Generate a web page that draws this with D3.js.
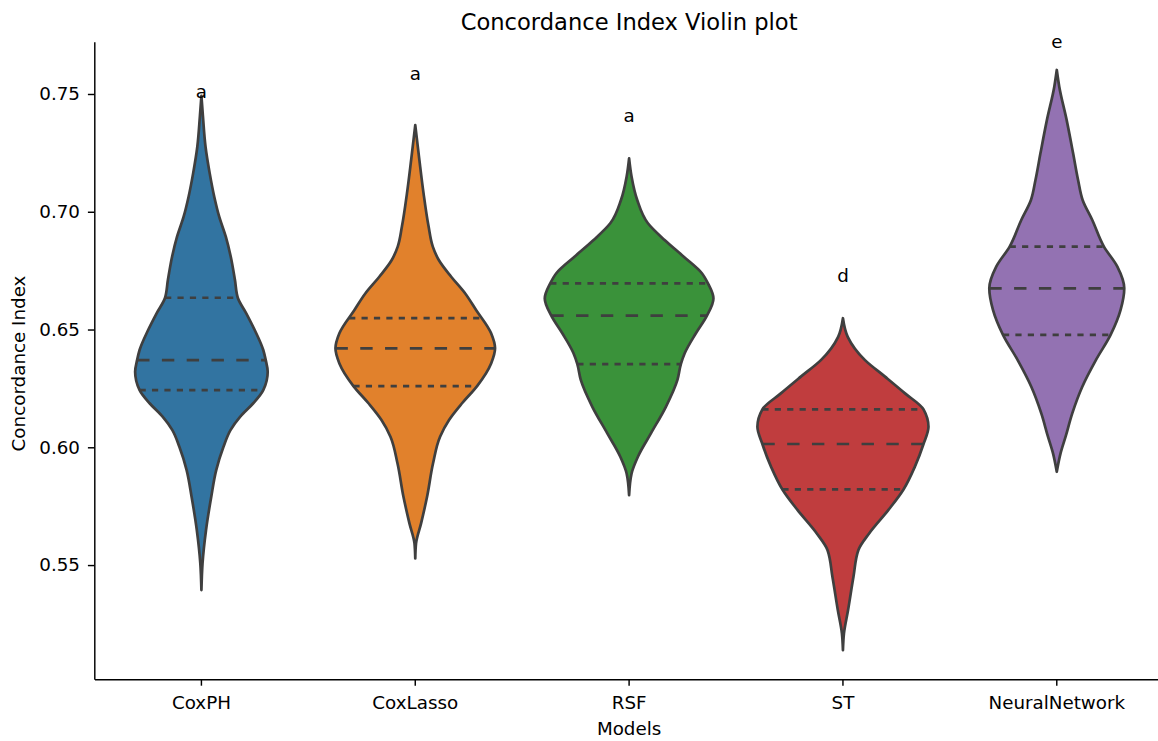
<!DOCTYPE html>
<html>
<head>
<meta charset="utf-8">
<script src="https://cdn.jsdelivr.net/npm/d3@7"></script>
<style>
  html, body { margin: 0; padding: 0; background: #ffffff; }
  svg { display: block; font-family: "DejaVu Sans", sans-serif; }
</style>
</head>
<body>
<svg id="chart" width="1158" height="741"></svg>
<script>
// Models on the x axis
const models = ["CoxPH", "CoxLasso", "RSF", "ST", "NeuralNetwork"];

// Kernel density profiles: [concordance index, relative density]
const coxphDensity = [[0.7492,0],[0.7404,0.018],[0.7276,0.048],[0.7163,0.097],[0.7064,0.150],[0.6979,0.208],[0.6894,0.285],[0.6809,0.343],[0.6710,0.392],[0.6635,0.425],[0.6569,0.524],[0.6498,0.623],[0.6413,0.723],[0.6370,0.752],[0.6321,0.775],[0.6243,0.723],[0.6187,0.606],[0.6130,0.454],[0.6073,0.340],[0.6002,0.258],[0.5903,0.173],[0.5790,0.115],[0.5649,0.054],[0.5507,0.013],[0.5394,0]];
const coxlassoDensity = [[0.7368,0],[0.7220,0.048],[0.7078,0.097],[0.6937,0.156],[0.6852,0.205],[0.6795,0.275],[0.6724,0.420],[0.6654,0.582],[0.6583,0.711],[0.6484,0.887],[0.6420,0.933],[0.6356,0.887],[0.6260,0.723],[0.6187,0.547],[0.6116,0.395],[0.6045,0.290],[0.5932,0.208],[0.5790,0.138],[0.5677,0.068],[0.5592,0.009],[0.5528,0]];
const rsfDensity = [[0.7227,0],[0.7149,0.029],[0.7050,0.095],[0.6951,0.220],[0.6880,0.415],[0.6809,0.639],[0.6739,0.851],[0.6696,0.922],[0.6632,0.986],[0.6559,0.910],[0.6484,0.781],[0.6399,0.650],[0.6354,0.606],[0.6286,0.565],[0.6172,0.430],[0.6059,0.255],[0.5960,0.103],[0.5889,0.029],[0.5797,0]];
const stDensity = [[0.6548,0],[0.6469,0.056],[0.6370,0.258],[0.6300,0.492],[0.6229,0.726],[0.6161,0.942],[0.6087,1.0],[0.6014,0.942],[0.5917,0.840],[0.5821,0.708],[0.5734,0.532],[0.5635,0.308],[0.5564,0.181],[0.5450,0.123],[0.5309,0.060],[0.5210,0.012],[0.5139,0]];
const nnDensity = [[0.7602,0],[0.7531,0.029],[0.7390,0.115],[0.7248,0.191],[0.7135,0.249],[0.7050,0.302],[0.6965,0.415],[0.6852,0.551],[0.6767,0.708],[0.6675,0.789],[0.6583,0.746],[0.6477,0.629],[0.6370,0.457],[0.6257,0.298],[0.6144,0.181],[0.6045,0.103],[0.5974,0.044],[0.5896,0]];
const densities = [coxphDensity, coxlassoDensity, rsfDensity, stDensity, nnDensity];

// Quartiles per model
const lowerQuartiles = [0.6243, 0.6260, 0.6353, 0.5821, 0.6477];
const medians        = [0.6370, 0.6420, 0.6559, 0.6014, 0.6675];
const upperQuartiles = [0.6635, 0.6548, 0.6696, 0.6161, 0.6852];

// Significance group letters and their heights
const groupLetters = ["a", "a", "a", "d", "e"];
const letterHeights = [0.7484, 0.7559, 0.7380, 0.6703, 0.7694];

// Axis ticks
const yTicks = [0.55, 0.60, 0.65, 0.70, 0.75];

const fills = ["#3274a1", "#e1812c", "#3a923a", "#c03d3e", "#9372b2"];
const edge = "#3f3f3f";

const svg = d3.select("#chart");
const plot = { left: 94.5, right: 1163.7, top: 41.7, bottom: 679.3 };

const x = d3.scaleBand().domain(models).range([plot.left, plot.right]).padding(0);
const y = d3.scaleLinear().domain([0.5015, 0.7722]).range([plot.bottom, plot.top]);
const w = d3.scaleLinear().domain([0, 1]).range([0, x.bandwidth() * 0.4]);

function densityAt(profile, v) {
  for (let i = 0; i < profile.length - 1; i++) {
    const a = profile[i], b = profile[i + 1];
    if ((v <= a[0] && v >= b[0])) {
      const t = (a[0] - v) / (a[0] - b[0]);
      return a[1] + t * (b[1] - a[1]);
    }
  }
  return 0;
}

const area = d3.area()
  .curve(d3.curveMonotoneY);

const violins = svg.append("g");
models.forEach((m, i) => {
  const cx = x(m) + x.bandwidth() / 2;
  const prof = densities[i];
  const g = violins.append("g");
  g.append("path")
    .attr("d", area
      .y(d => y(d[0]))
      .x0(d => cx - w(d[1]))
      .x1(d => cx + w(d[1]))(prof))
    .attr("fill", fills[i])
    .attr("stroke", edge)
    .attr("stroke-width", 2.7)
    .attr("stroke-linejoin", "round");

  const lines = [
    { v: lowerQuartiles[i], dash: "6.2,6.2" },
    { v: medians[i], dash: "12.4,12.4" },
    { v: upperQuartiles[i], dash: "6.2,6.2" }
  ];
  lines.forEach(l => {
    const hw = w(densityAt(prof, l.v));
    g.append("line")
      .attr("x1", cx - hw).attr("x2", cx + hw)
      .attr("y1", y(l.v)).attr("y2", y(l.v))
      .attr("stroke", edge)
      .attr("stroke-width", 2.7)
      .attr("stroke-dasharray", l.dash);
  });
});

// Group letters above each violin
svg.append("g").selectAll("text")
  .data(models)
  .join("text")
  .attr("x", d => x(d) + x.bandwidth() / 2)
  .attr("y", (d, i) => y(letterHeights[i]))
  .attr("text-anchor", "middle")
  .attr("font-size", 18.3)
  .attr("fill", "#000")
  .text((d, i) => groupLetters[i]);

// Axes
const yAxis = d3.axisLeft(y).tickValues(yTicks).tickFormat(d3.format(".2f"))
  .tickSize(6.4).tickSizeOuter(0).tickPadding(7.9);
const gy = svg.append("g").attr("transform", `translate(${plot.left - 0.2},0)`).call(yAxis);

const xAxis = d3.axisBottom(x).tickSize(6.4).tickSizeOuter(0).tickPadding(10);
const gx = svg.append("g").attr("transform", `translate(0,${plot.bottom})`).call(xAxis);

[gy, gx].forEach(g => {
  g.select(".domain").attr("stroke", "#000").attr("stroke-width", 1.45);
  g.selectAll(".tick line").attr("stroke", "#000").attr("stroke-width", 1.45);
  g.selectAll(".tick text").attr("font-size", 18.3).attr("fill", "#000")
    .attr("font-family", "DejaVu Sans, sans-serif");
});

// Axis titles and chart title
svg.append("text")
  .attr("x", (plot.left + plot.right) / 2).attr("y", 735)
  .attr("text-anchor", "middle").attr("font-size", 18.3).text("Models");

svg.append("text")
  .attr("transform", `translate(24.5,${(plot.top + plot.bottom) / 2 + 3}) rotate(-90)`)
  .attr("text-anchor", "middle").attr("font-size", 18.3).text("Concordance Index");

svg.append("text")
  .attr("x", (plot.left + plot.right) / 2).attr("y", 30)
  .attr("text-anchor", "middle").attr("font-size", 22.6).text("Concordance Index Violin plot");
</script>
</body>
</html>
